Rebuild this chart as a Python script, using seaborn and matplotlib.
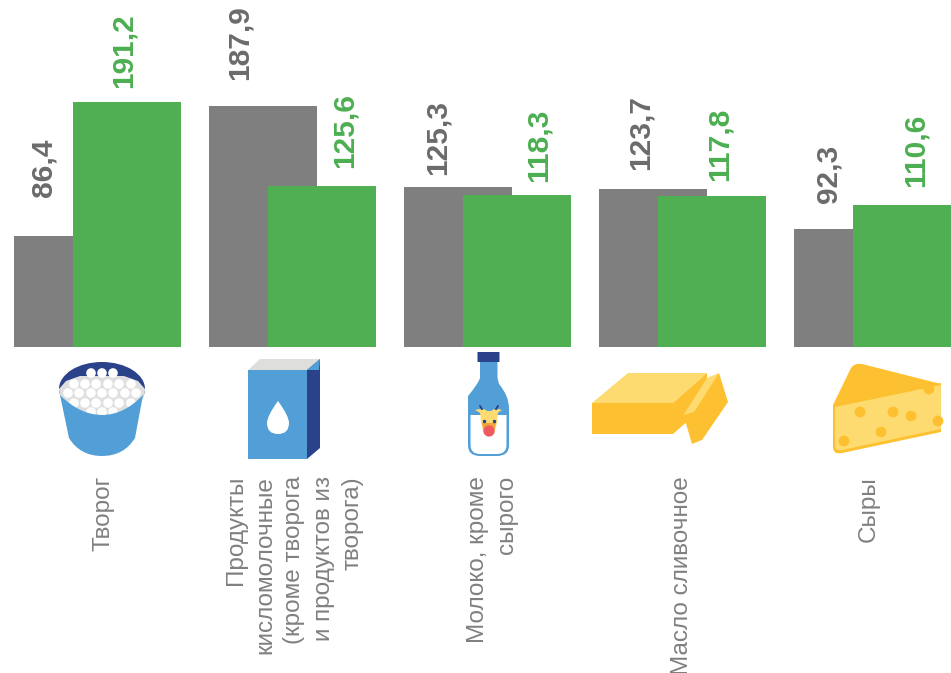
import pandas as pd
import seaborn as sns
from matplotlib import pyplot as plt
from matplotlib.patches import Circle, Ellipse, Polygon, FancyBboxPatch, PathPatch
from matplotlib.path import Path

categories = ['Творог',
              'Продукты\nкисломолочные\n(кроме творога\nи продуктов из\nтворога)',
              'Молоко, кроме\nсырого',
              'Масло сливочное',
              'Сыры']
gray_values = [86.4, 187.9, 125.3, 123.7, 92.3]
green_values = [191.2, 125.6, 118.3, 117.8, 110.6]
gray_text = ['86,4', '187,9', '125,3', '123,7', '92,3']
green_text = ['191,2', '125,6', '118,3', '117,8', '110,6']

GRAY = '#7F7F7F'
GREEN = '#50AF52'
BLUE = '#529FD7'
NAVY = '#2A4289'
YELLOW = '#FDC030'
LIGHT = '#FDDB71'

sns.set_theme(style='white')
plt.rcParams['font.family'] = ['Liberation Sans', 'DejaVu Sans']

df = pd.DataFrame({
    'cat': categories * 2,
    'value': gray_values + green_values,
    'series': ['gray'] * 5 + ['green'] * 5,
})

fig = plt.figure(figsize=(9.51, 6.73), dpi=100)
ax = fig.add_axes([0, 0, 1, 1])
# overlapping pairs, hence the negative gap
sns.barplot(data=df, x='cat', y='value', hue='series', palette=[GRAY, GREEN],
            width=0.605, gap=-0.83, legend=False, saturation=1, linewidth=0, ax=ax)
ax.set_xlim(-0.5, 4.377)
ax.set_ylim(-254.5, 270.9)
ax.axis('off')

# value labels are placed by hand in the original, offsets in pixels
gray_dx = [-25, -23, -20, -12, -19]
gray_dy = [39, 26, 12, 19, 26]
green_dx = [-3, 23, 22, 8, 9]
green_dy = [14, 18, 13, 15, 18]
for bars, texts, dxs, dys, col in [(ax.containers[0], gray_text, gray_dx, gray_dy, '#6B6B6B'),
                                   (ax.containers[1], green_text, green_dx, green_dy, '#4CAF50')]:
    for bar, t, dx, dy in zip(bars, texts, dxs, dys):
        ax.annotate(t, (bar.get_x() + bar.get_width() / 2, bar.get_height()),
                    xytext=(dx, dy), textcoords='offset pixels',
                    rotation=90, ha='center', va='bottom',
                    fontsize=21.5, fontweight='bold', color=col)

# category labels
label_dx = [6, 2, 5, 0, -9]
for i, (c, dx) in enumerate(zip(categories, label_dx)):
    ax.annotate(c, (i, 0), xytext=(dx, -129), textcoords='offset pixels',
                rotation=90, ha='center', va='top', multialignment='right',
                fontsize=17.5, color='#808080', linespacing=1.42)

# icons, in pixel coordinates of the picture
ic = fig.add_axes([0, 0, 1, 1], facecolor='none')
ic.set_xlim(0, 951)
ic.set_ylim(673, 0)
ic.axis('off')


def poly(pts, color, z=2):
    p = Polygon(pts, closed=True, fc=color, ec='none', zorder=z)
    ic.add_patch(p)
    return p


def curve(verts, codes, color, z=2):
    p = PathPatch(Path(verts, codes), fc=color, ec='none', zorder=z)
    ic.add_patch(p)
    return p


M, L, C3 = Path.MOVETO, Path.LINETO, Path.CURVE3

# bucket
rim = Ellipse((102, 389), 86, 54, fc=NAVY, ec='none', zorder=2)
ic.add_patch(rim)
curd = poly([(59, 389), (66, 381), (80, 376), (124, 376), (138, 381), (145, 389), (145, 420), (59, 420)], '#DFDFDF', 3)
curd.set_clip_path(rim)
rows = [(373, [91, 102, 113]), (384, [74, 85, 96, 108, 119, 131]),
        (393, [68, 79, 91, 102, 113, 125, 136]), (403, [74, 85, 96, 108, 119, 131]),
        (412, [91, 102, 113])]
for y, xs in rows:
    for x in xs:
        c = Circle((x, y), 4.8, fc='white', ec='none', zorder=4)
        ic.add_patch(c)
        if y > 380:
            c.set_clip_path(rim)
curve([(60, 395), (80, 415), (102, 415), (124, 415), (143, 395), (135, 438),
       (124, 456), (102, 456), (80, 456), (69, 438), (60, 395)],
      [M, C3, C3, C3, C3, L, C3, C3, C3, C3, L], BLUE, 5)

# carton
poly([(248, 370), (260, 359), (320, 359), (307, 370)], '#DEDEDC')
poly([(307, 370), (320, 359), (320, 448), (307, 459)], NAVY)
poly([(307, 370), (320, 359), (319, 370), (309, 370)], BLUE, 3)
poly([(248, 370), (307, 370), (307, 459), (248, 459)], BLUE, 3)
curve([(278, 401), (267, 416), (267, 423), (267, 434), (278, 434), (289, 434), (289, 423),
       (289, 416), (278, 401)],
      [M, C3, C3, C3, C3, C3, C3, C3, C3], 'white', 4)

# bottle
curve([(480, 362), (480, 378), (478, 384), (468, 396), (468, 408), (468, 445), (468, 456), (480, 456),
       (497, 456), (509, 456), (509, 445), (509, 408), (509, 396), (499, 384), (497.5, 378), (497.5, 362), (480, 362)],
      [M, L, C3, C3, L, L, C3, C3, L, C3, C3, L, C3, C3, L, L, L], BLUE)
ic.add_patch(FancyBboxPatch((478, 352.5), 21, 9, boxstyle='round,pad=0.5', fc=NAVY, ec='none', zorder=3))
curve([(470.5, 415), (470.5, 445), (470.5, 454), (480, 454), (497, 454), (506.5, 454), (506.5, 445), (506.5, 415), (470.5, 415)],
      [M, L, C3, C3, L, C3, C3, L, L], 'white', 3)
# cow
ic.plot([480, 484], [406, 412], color=NAVY, lw=1.4, zorder=4)
ic.plot([498, 494], [406, 412], color=NAVY, lw=1.4, zorder=4)
poly([(475, 410), (480, 409), (484, 412), (482, 414)], LIGHT, 5)
poly([(502, 410), (498, 409), (494, 412), (496, 414)], LIGHT, 5)
poly([(480, 411), (484, 409), (487, 411), (491, 411), (494, 409), (498, 411), (497, 423), (494, 434), (484, 434), (481, 423)], LIGHT, 5)
poly([(482, 423), (496, 423), (494, 432), (484, 432)], '#F3A33B', 6)
ic.add_patch(Circle((489, 431), 5.6, fc='#EE5A5F', ec='none', zorder=7))
ic.plot([484, 494], [421, 421], ls='none', marker='o', ms=1.5, color=NAVY, zorder=7)

# butter
poly([(592, 403), (628, 373), (707, 373), (673, 403)], LIGHT)
poly([(592, 403), (673, 403), (673, 434), (592, 434)], YELLOW)
poly([(673, 403), (707, 373), (707, 404), (673, 434)], YELLOW)
poly([(719, 373), (728, 402), (702, 440), (692, 444), (683.5, 415), (707, 383)], YELLOW, 3)
poly([(683.5, 415), (694, 412), (719, 373), (707, 378)], LIGHT, 4)

# cheese
curve([(833, 405), (851, 368), (854, 363), (862, 364), (941, 384), (941, 395), (833, 415), (833, 405)],
      [M, L, C3, C3, L, L, L, L], YELLOW)
curve([(833, 405), (941, 383), (941, 432), (842, 453), (833, 455), (833, 447), (833, 405)],
      [M, L, L, L, C3, C3, L], YELLOW, 3)
curve([(835, 407), (941, 385), (941, 429), (842, 450), (835, 452), (835, 445), (835, 407)],
      [M, L, L, L, C3, C3, L], LIGHT, 4)
for x, y in [(860, 412), (893, 412), (911, 416), (881, 432), (844, 441), (929, 389), (938, 421)]:
    ic.add_patch(Circle((x, y), 5.4, fc=YELLOW, ec='none', zorder=5))

plt.savefig('out.png', dpi=100)
